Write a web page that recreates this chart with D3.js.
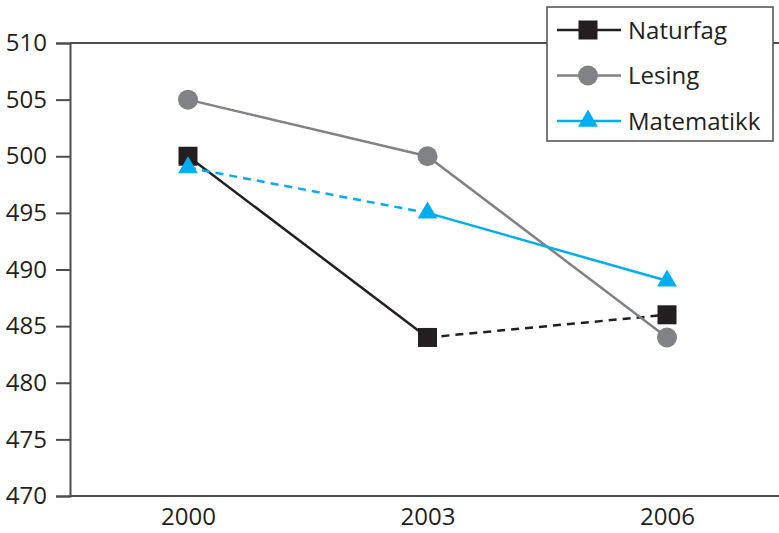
<!DOCTYPE html>
<html>
<head>
<meta charset="utf-8">
<script src="https://cdn.jsdelivr.net/npm/d3@7"></script>
<style>
  html, body { margin: 0; padding: 0; background: #fff; }
  svg { display: block; }
  text { font-family: "Open Sans", "Noto Sans", sans-serif; fill: #231f20; }
</style>
</head>
<body>
<svg id="chart" width="779" height="533"></svg>
<script>
// Years on the x axis
const years = ["2000", "2003", "2006"];
// Mean scores per subject
const naturfag = [500, 484, 486];
const lesing = [505, 500, 484];
const matematikk = [499, 495, 489];
// y-axis tick values
const yTicks = [470, 475, 480, 485, 490, 495, 500, 505, 510];

// Segment styles: which year-to-year segments are dashed
const naturfagDash = [false, true];
const lesingDash = [false, false];
const matematikkDash = [true, false];

const series = [
  { name: "Naturfag", values: naturfag, dash: naturfagDash, color: "#231f20", marker: "square" },
  { name: "Lesing", values: lesing, dash: lesingDash, color: "#808285", marker: "circle" },
  { name: "Matematikk", values: matematikk, dash: matematikkDash, color: "#00aeef", marker: "triangle" }
];

const svg = d3.select("#chart");
const plotLeft = 70, plotRight = 779, plotTop = 43, plotBottom = 496;
const fontSize = 24;

const x = d3.scalePoint().domain(years).range([188, 667]);
const y = d3.scaleLinear().domain([470, 510]).range([plotBottom, plotTop]);

const axisColor = "#4d4d4f";

// Frame: top line across the plot
svg.append("line").attr("x1", plotLeft).attr("x2", plotRight).attr("y1", plotTop).attr("y2", plotTop)
  .attr("stroke", axisColor).attr("stroke-width", 2);

// y axis
const yAxis = svg.append("g").attr("transform", `translate(${plotLeft},0)`)
  .call(d3.axisLeft(y).tickValues(yTicks).tickSize(14).tickPadding(9).tickFormat(d3.format("d")));
yAxis.select(".domain").attr("stroke", axisColor).attr("stroke-width", 2);
yAxis.selectAll(".tick line").attr("stroke", axisColor).attr("stroke-width", 2);
yAxis.selectAll(".tick text").attr("font-size", fontSize).attr("fill", "#231f20")
  .attr("font-family", '"Open Sans", sans-serif');

// x axis
const xAxis = svg.append("g").attr("transform", `translate(0,${plotBottom})`)
  .call(d3.axisBottom(x).tickSize(0).tickPadding(12));
xAxis.select(".domain").remove();
svg.append("line").attr("x1", plotLeft).attr("x2", plotRight).attr("y1", plotBottom).attr("y2", plotBottom)
  .attr("stroke", axisColor).attr("stroke-width", 2);
xAxis.selectAll(".tick text").attr("font-size", fontSize).attr("fill", "#231f20")
  .attr("font-family", '"Open Sans", sans-serif');

function drawMarker(g, type, cx, cy, color) {
  if (type === "square") {
    g.append("rect").attr("x", cx - 9.5).attr("y", cy - 9.5).attr("width", 19).attr("height", 19)
      .attr("fill", color);
  } else if (type === "circle") {
    g.append("circle").attr("cx", cx).attr("cy", cy).attr("r", 10).attr("fill", color);
  } else {
    const s = d3.symbol().type(d3.symbolTriangle).size(170);
    g.append("path").attr("d", s()).attr("transform", `translate(${cx},${cy})`).attr("fill", color);
  }
}

const plot = svg.append("g");
series.forEach(s => {
  for (let i = 0; i < years.length - 1; i++) {
    plot.append("line")
      .attr("x1", x(years[i])).attr("y1", y(s.values[i]))
      .attr("x2", x(years[i + 1])).attr("y2", y(s.values[i + 1]))
      .attr("stroke", s.color).attr("stroke-width", 2.5)
      .attr("stroke-dasharray", s.dash[i] ? "8,6" : null);
  }
});
series.forEach(s => {
  s.values.forEach((v, i) => drawMarker(plot, s.marker, x(years[i]), y(v), s.color));
});

// Legend
const lg = svg.append("g");
lg.append("rect").attr("x", 547).attr("y", 7).attr("width", 226).attr("height", 134)
  .attr("fill", "#fff").attr("stroke", "#4d4d4f").attr("stroke-width", 1.5);
series.forEach((s, i) => {
  const cy = 30 + i * 45.5;
  lg.append("line").attr("x1", 557).attr("x2", 621).attr("y1", cy).attr("y2", cy)
    .attr("stroke", s.color).attr("stroke-width", 2.5);
  drawMarker(lg, s.marker, 588, cy, s.color);
  lg.append("text").attr("x", 628).attr("y", cy).attr("dy", "0.36em")
    .attr("font-size", fontSize).text(s.name);
});
</script>
</body>
</html>
